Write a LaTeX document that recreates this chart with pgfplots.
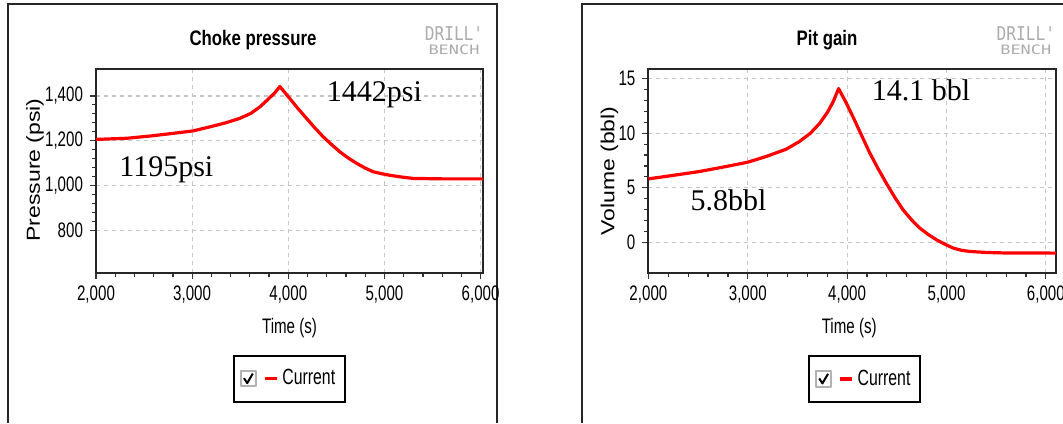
\documentclass[border=0pt]{standalone}
\usepackage{fontspec}
\setmainfont{Liberation Sans}
\newfontfamily\narrowf{Liberation Sans}[FakeStretch=0.72]
\newfontfamily\titlefam{Liberation Sans}[FakeStretch=0.8]
\newfontfamily\timesf{Liberation Serif}
\newfontfamily\monof{DejaVu Sans Mono}
\usepackage{pgfplots}
\pgfplotsset{compat=1.18}
\usepackage{graphicx}
\newcommand\tickf{\narrowf\fontsize{10.5}{12}\selectfont}
\newcommand\legf{\narrowf\fontsize{11}{12}\selectfont}
\newcommand\titlef{\titlefam\bfseries\fontsize{10.5}{12}\selectfont}
\newcommand\annf{\timesf\fontsize{15}{16}\selectfont}
\pgfplotsset{
  panel/.style={
    scale only axis, anchor=south west,
    minor x tick num=4, minor y tick num=4,
    xtick={2000,3000,4000,5000,6000},
    tick align=outside, tick pos=left,
    major tick length=3pt, minor tick length=2pt,
    tick style={black!80, line width=0.6pt},
    axis line style={black!85, line width=1pt},
    grid=major,
    major grid style={gray!45, line width=0.6pt, dash pattern=on 2pt off 2pt},
    xticklabel style={font=\tickf},
    yticklabel style={font=\tickf},
    /pgf/number format/1000 sep={,},
    /pgf/number format/assume math mode=true,
    legend style={anchor=north, draw=black, line width=1pt, font=\legf, inner xsep=3pt, inner ysep=5pt},
    legend cell align=left,
    legend image code/.code={
      \draw[gray!60, line width=1pt, fill=white, solid] (0pt,-3.8pt) rectangle (7.6pt,3.8pt);
      \draw[black, line width=1pt, solid] (1.6pt,0.3pt) -- (3.2pt,-2.2pt) -- (6pt,2.6pt);
      \draw[red, line width=1.6pt, solid] (12pt,0pt) -- (18pt,0pt);
    },
  }
}
\begin{document}
\begin{tikzpicture}
\useasboundingbox (0,0) rectangle (531.5pt,211.5pt);
% frames
\draw[line width=1pt, black!85] (4pt,0) -- (4pt,209.5pt) -- (248.5pt,209.5pt) -- (248.5pt,0);
\draw[line width=1pt, black!85] (290.8pt,0) -- (290.8pt,209.5pt) -- (540pt,209.5pt);
% titles
\node[font=\titlef] at (126.5pt,191.5pt) {Choke pressure};
\node[font=\titlef] at (413.5pt,191.5pt) {Pit gain};
% logos
\node[font=\monof\fontsize{9.5}{10}\selectfont, text=gray!65, inner sep=0] at (227pt,194.5pt) {\scalebox{0.85}[1]{DRILL'}};
\node[font=\monof\fontsize{6.5}{7}\selectfont, text=gray!65, inner sep=0] at (227pt,186.5pt) {\scalebox{1.3}[1]{BENCH}};
\node[font=\monof\fontsize{9.5}{10}\selectfont, text=gray!65, inner sep=0] at (512.9pt,194.5pt) {\scalebox{0.85}[1]{DRILL'}};
\node[font=\monof\fontsize{6.5}{7}\selectfont, text=gray!65, inner sep=0] at (512.9pt,186.5pt) {\scalebox{1.3}[1]{BENCH}};
% axis labels
\node[rotate=90, inner sep=0] at (17.5pt,126.5pt) {\scalebox{1}[0.82]{\fontsize{11.5}{12}\selectfont Pressure (psi)}};
\node[rotate=90, inner sep=0] at (304.7pt,126pt) {\scalebox{1}[0.82]{\fontsize{11.5}{12}\selectfont Volume (bbl)}};
\node[font=\tickf, inner sep=0] at (144.75pt,47.5pt) {Time (s)};
\node[font=\tickf, inner sep=0] at (424.6pt,47.5pt) {Time (s)};

\begin{axis}[panel,
  at={(48pt,75pt)}, width=193.5pt, height=102pt,
  xmin=2000, xmax=6025, ymin=610, ymax=1520,
  ytick={800,1000,1200,1400},
  legend style={at={(0.5,-0.40)}},
]
\addplot[red, line width=1.6pt, line join=round] coordinates {
(2000,1206) (2319,1211) (2561,1221) (2803,1233) (3011,1244) (3184,1262)
(3350,1280) (3496,1300) (3610,1322) (3704,1351) (3790,1385) (3860,1414) (3912,1442)
(4016,1388) (4100,1344) (4189,1300) (4275,1258) (4362,1218) (4450,1183) (4535,1151)
(4620,1124) (4708,1100) (4795,1079) (4881,1062) (4970,1053) (5055,1046)
(5180,1038) (5297,1032) (5600,1030) (6025,1030)
};
\addlegendentry{Current}
\node[anchor=base west, font=\annf, inner sep=0] at (axis cs:4397,1373) {1442psi};
\node[anchor=base west, font=\annf, inner sep=0] at (axis cs:2239,1040) {1195psi};
\end{axis}

\begin{axis}[panel,
  at={(324.2pt,75.2pt)}, width=203.7pt, height=101.8pt,
  xmin=2000, xmax=6100, ymin=-2.8, ymax=15.9,
  ytick={0,5,10,15},
  legend style={at={(0.531,-0.404)}},
]
\addplot[red, line width=1.6pt, line join=round] coordinates {
(2000,5.81) (2242,6.12) (2511,6.48) (2780,6.94) (2999,7.34) (3184,7.86)
(3386,8.53) (3520,9.24) (3630,10.0) (3723,10.9) (3800,11.9) (3860,12.9) (3914,14.1)
(3990,12.8) (4059,11.5) (4143,9.85) (4227,8.2) (4311,6.75) (4395,5.4) (4480,4.1)
(4563,2.96) (4648,2.05) (4732,1.28) (4816,0.7) (4900,0.21) (4985,-0.2)
(5068,-0.55) (5150,-0.75) (5236,-0.86) (5400,-0.95) (5600,-1.0) (6100,-1.01)
};
\addlegendentry{Current}
\node[anchor=base west, font=\annf, inner sep=0] at (axis cs:4244,13.0) {14.1 bbl};
\node[anchor=base west, font=\annf, inner sep=0] at (axis cs:2421,2.9) {5.8bbl};
\end{axis}
\end{tikzpicture}
\end{document}
